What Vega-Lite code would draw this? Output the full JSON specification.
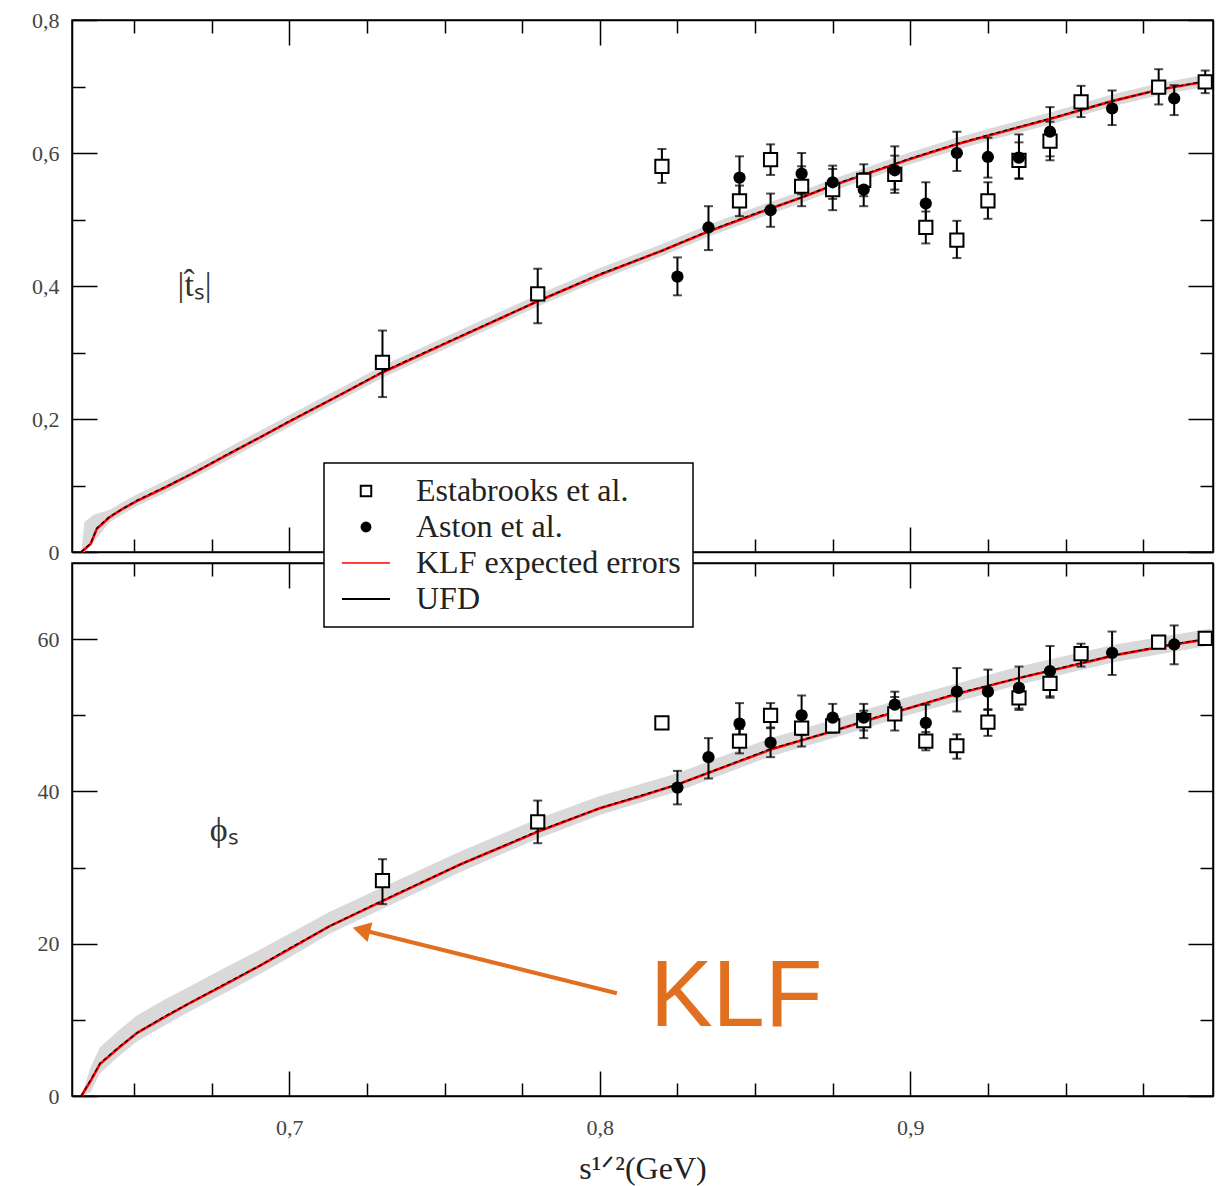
{
  "$schema": "https://vega.github.io/schema/vega-lite/v6.json",
  "background": "white",
  "padding": {"left": 30, "top": 8, "right": 14, "bottom": 4},
  "config": {
    "font": "Liberation Serif",
    "view": {"stroke": "black", "strokeWidth": 1.5},
    "axis": {"domainColor": "black", "domainWidth": 1.5, "tickColor": "black", "tickWidth": 1.5, "grid": false, "minExtent": 0,
      "labelFont": "Liberation Serif", "labelFontSize": 22, "labelColor": "#444", "labelOverlap": false, "labelFlush": false, "labelBound": false,
      "titleFont": "Liberation Serif", "titleFontSize": 32, "titleFontWeight": "normal", "titleColor": "#222"}
  },
  "datasets": {
    "curve": [
      {"panel": "t", "series": "KLF expected errors", "x": 0.633, "y": 0.0},
      {"panel": "t", "series": "KLF expected errors", "x": 0.636, "y": 0.012},
      {"panel": "t", "series": "KLF expected errors", "x": 0.638, "y": 0.035},
      {"panel": "t", "series": "KLF expected errors", "x": 0.642, "y": 0.052},
      {"panel": "t", "series": "KLF expected errors", "x": 0.646, "y": 0.064},
      {"panel": "t", "series": "KLF expected errors", "x": 0.651, "y": 0.077},
      {"panel": "t", "series": "KLF expected errors", "x": 0.66, "y": 0.097},
      {"panel": "t", "series": "KLF expected errors", "x": 0.67, "y": 0.121},
      {"panel": "t", "series": "KLF expected errors", "x": 0.68, "y": 0.146},
      {"panel": "t", "series": "KLF expected errors", "x": 0.69, "y": 0.171},
      {"panel": "t", "series": "KLF expected errors", "x": 0.70, "y": 0.196},
      {"panel": "t", "series": "KLF expected errors", "x": 0.715, "y": 0.233},
      {"panel": "t", "series": "KLF expected errors", "x": 0.73, "y": 0.270},
      {"panel": "t", "series": "KLF expected errors", "x": 0.75, "y": 0.313},
      {"panel": "t", "series": "KLF expected errors", "x": 0.78, "y": 0.377},
      {"panel": "t", "series": "KLF expected errors", "x": 0.80, "y": 0.417},
      {"panel": "t", "series": "KLF expected errors", "x": 0.82, "y": 0.453},
      {"panel": "t", "series": "KLF expected errors", "x": 0.835, "y": 0.482},
      {"panel": "t", "series": "KLF expected errors", "x": 0.85, "y": 0.508},
      {"panel": "t", "series": "KLF expected errors", "x": 0.865, "y": 0.533},
      {"panel": "t", "series": "KLF expected errors", "x": 0.875, "y": 0.551},
      {"panel": "t", "series": "KLF expected errors", "x": 0.89, "y": 0.575},
      {"panel": "t", "series": "KLF expected errors", "x": 0.90, "y": 0.591},
      {"panel": "t", "series": "KLF expected errors", "x": 0.915, "y": 0.613},
      {"panel": "t", "series": "KLF expected errors", "x": 0.925, "y": 0.626},
      {"panel": "t", "series": "KLF expected errors", "x": 0.945, "y": 0.651},
      {"panel": "t", "series": "KLF expected errors", "x": 0.965, "y": 0.678},
      {"panel": "t", "series": "KLF expected errors", "x": 0.98, "y": 0.695},
      {"panel": "t", "series": "KLF expected errors", "x": 0.997, "y": 0.709},
      {"panel": "t", "series": "UFD", "x": 0.633, "y": 0.0},
      {"panel": "t", "series": "UFD", "x": 0.636, "y": 0.013},
      {"panel": "t", "series": "UFD", "x": 0.638, "y": 0.036},
      {"panel": "t", "series": "UFD", "x": 0.642, "y": 0.053},
      {"panel": "t", "series": "UFD", "x": 0.646, "y": 0.064},
      {"panel": "t", "series": "UFD", "x": 0.651, "y": 0.078},
      {"panel": "t", "series": "UFD", "x": 0.66, "y": 0.098},
      {"panel": "t", "series": "UFD", "x": 0.67, "y": 0.121},
      {"panel": "t", "series": "UFD", "x": 0.68, "y": 0.147},
      {"panel": "t", "series": "UFD", "x": 0.69, "y": 0.171},
      {"panel": "t", "series": "UFD", "x": 0.70, "y": 0.197},
      {"panel": "t", "series": "UFD", "x": 0.715, "y": 0.233},
      {"panel": "t", "series": "UFD", "x": 0.73, "y": 0.271},
      {"panel": "t", "series": "UFD", "x": 0.75, "y": 0.314},
      {"panel": "t", "series": "UFD", "x": 0.78, "y": 0.377},
      {"panel": "t", "series": "UFD", "x": 0.80, "y": 0.418},
      {"panel": "t", "series": "UFD", "x": 0.82, "y": 0.453},
      {"panel": "t", "series": "UFD", "x": 0.835, "y": 0.483},
      {"panel": "t", "series": "UFD", "x": 0.85, "y": 0.509},
      {"panel": "t", "series": "UFD", "x": 0.865, "y": 0.533},
      {"panel": "t", "series": "UFD", "x": 0.875, "y": 0.552},
      {"panel": "t", "series": "UFD", "x": 0.89, "y": 0.576},
      {"panel": "t", "series": "UFD", "x": 0.90, "y": 0.592},
      {"panel": "t", "series": "UFD", "x": 0.915, "y": 0.614},
      {"panel": "t", "series": "UFD", "x": 0.925, "y": 0.627},
      {"panel": "t", "series": "UFD", "x": 0.945, "y": 0.652},
      {"panel": "t", "series": "UFD", "x": 0.965, "y": 0.678},
      {"panel": "t", "series": "UFD", "x": 0.98, "y": 0.695},
      {"panel": "t", "series": "UFD", "x": 0.997, "y": 0.710},
      {"panel": "phi", "series": "KLF expected errors", "x": 0.633, "y": 0.0},
      {"panel": "phi", "series": "KLF expected errors", "x": 0.636, "y": 2.0},
      {"panel": "phi", "series": "KLF expected errors", "x": 0.639, "y": 4.2},
      {"panel": "phi", "series": "KLF expected errors", "x": 0.645, "y": 6.3},
      {"panel": "phi", "series": "KLF expected errors", "x": 0.651, "y": 8.3},
      {"panel": "phi", "series": "KLF expected errors", "x": 0.66, "y": 10.4},
      {"panel": "phi", "series": "KLF expected errors", "x": 0.667, "y": 12.0},
      {"panel": "phi", "series": "KLF expected errors", "x": 0.68, "y": 14.8},
      {"panel": "phi", "series": "KLF expected errors", "x": 0.69, "y": 17.0},
      {"panel": "phi", "series": "KLF expected errors", "x": 0.70, "y": 19.3},
      {"panel": "phi", "series": "KLF expected errors", "x": 0.713, "y": 22.3},
      {"panel": "phi", "series": "KLF expected errors", "x": 0.73, "y": 25.6},
      {"panel": "phi", "series": "KLF expected errors", "x": 0.755, "y": 30.4},
      {"panel": "phi", "series": "KLF expected errors", "x": 0.78, "y": 34.7},
      {"panel": "phi", "series": "KLF expected errors", "x": 0.80, "y": 37.8},
      {"panel": "phi", "series": "KLF expected errors", "x": 0.8126, "y": 39.3},
      {"panel": "phi", "series": "KLF expected errors", "x": 0.825, "y": 40.9},
      {"panel": "phi", "series": "KLF expected errors", "x": 0.855, "y": 45.5},
      {"panel": "phi", "series": "KLF expected errors", "x": 0.875, "y": 47.9},
      {"panel": "phi", "series": "KLF expected errors", "x": 0.89, "y": 49.8},
      {"panel": "phi", "series": "KLF expected errors", "x": 0.90, "y": 51.0},
      {"panel": "phi", "series": "KLF expected errors", "x": 0.915, "y": 52.8},
      {"panel": "phi", "series": "KLF expected errors", "x": 0.935, "y": 54.9},
      {"panel": "phi", "series": "KLF expected errors", "x": 0.95, "y": 56.3},
      {"panel": "phi", "series": "KLF expected errors", "x": 0.966, "y": 57.9},
      {"panel": "phi", "series": "KLF expected errors", "x": 0.985, "y": 59.3},
      {"panel": "phi", "series": "KLF expected errors", "x": 0.997, "y": 60.1},
      {"panel": "phi", "series": "UFD", "x": 0.633, "y": 0.0},
      {"panel": "phi", "series": "UFD", "x": 0.636, "y": 2.1},
      {"panel": "phi", "series": "UFD", "x": 0.639, "y": 4.3},
      {"panel": "phi", "series": "UFD", "x": 0.645, "y": 6.4},
      {"panel": "phi", "series": "UFD", "x": 0.651, "y": 8.3},
      {"panel": "phi", "series": "UFD", "x": 0.66, "y": 10.5},
      {"panel": "phi", "series": "UFD", "x": 0.667, "y": 12.0},
      {"panel": "phi", "series": "UFD", "x": 0.68, "y": 14.9},
      {"panel": "phi", "series": "UFD", "x": 0.69, "y": 17.0},
      {"panel": "phi", "series": "UFD", "x": 0.70, "y": 19.4},
      {"panel": "phi", "series": "UFD", "x": 0.713, "y": 22.3},
      {"panel": "phi", "series": "UFD", "x": 0.73, "y": 25.7},
      {"panel": "phi", "series": "UFD", "x": 0.755, "y": 30.4},
      {"panel": "phi", "series": "UFD", "x": 0.78, "y": 34.8},
      {"panel": "phi", "series": "UFD", "x": 0.80, "y": 37.8},
      {"panel": "phi", "series": "UFD", "x": 0.8126, "y": 39.4},
      {"panel": "phi", "series": "UFD", "x": 0.825, "y": 40.9},
      {"panel": "phi", "series": "UFD", "x": 0.855, "y": 45.6},
      {"panel": "phi", "series": "UFD", "x": 0.875, "y": 47.9},
      {"panel": "phi", "series": "UFD", "x": 0.89, "y": 49.9},
      {"panel": "phi", "series": "UFD", "x": 0.90, "y": 51.0},
      {"panel": "phi", "series": "UFD", "x": 0.915, "y": 52.9},
      {"panel": "phi", "series": "UFD", "x": 0.935, "y": 54.9},
      {"panel": "phi", "series": "UFD", "x": 0.95, "y": 56.4},
      {"panel": "phi", "series": "UFD", "x": 0.966, "y": 57.9},
      {"panel": "phi", "series": "UFD", "x": 0.985, "y": 59.4},
      {"panel": "phi", "series": "UFD", "x": 0.997, "y": 60.1}
    ],
    "band": [
      {"panel": "t", "x": 0.633, "lo": 0.0, "hi": 0.0},
      {"panel": "t", "x": 0.634, "lo": 0.0, "hi": 0.045},
      {"panel": "t", "x": 0.637, "lo": 0.015, "hi": 0.056},
      {"panel": "t", "x": 0.642, "lo": 0.044, "hi": 0.063},
      {"panel": "t", "x": 0.646, "lo": 0.056, "hi": 0.074},
      {"panel": "t", "x": 0.651, "lo": 0.069, "hi": 0.087},
      {"panel": "t", "x": 0.66, "lo": 0.089, "hi": 0.107},
      {"panel": "t", "x": 0.67, "lo": 0.113, "hi": 0.131},
      {"panel": "t", "x": 0.68, "lo": 0.138, "hi": 0.156},
      {"panel": "t", "x": 0.69, "lo": 0.163, "hi": 0.181},
      {"panel": "t", "x": 0.70, "lo": 0.188, "hi": 0.206},
      {"panel": "t", "x": 0.715, "lo": 0.225, "hi": 0.243},
      {"panel": "t", "x": 0.73, "lo": 0.262, "hi": 0.280},
      {"panel": "t", "x": 0.75, "lo": 0.305, "hi": 0.323},
      {"panel": "t", "x": 0.78, "lo": 0.369, "hi": 0.387},
      {"panel": "t", "x": 0.80, "lo": 0.409, "hi": 0.427},
      {"panel": "t", "x": 0.82, "lo": 0.445, "hi": 0.463},
      {"panel": "t", "x": 0.835, "lo": 0.474, "hi": 0.492},
      {"panel": "t", "x": 0.85, "lo": 0.500, "hi": 0.518},
      {"panel": "t", "x": 0.865, "lo": 0.525, "hi": 0.543},
      {"panel": "t", "x": 0.875, "lo": 0.543, "hi": 0.561},
      {"panel": "t", "x": 0.89, "lo": 0.567, "hi": 0.585},
      {"panel": "t", "x": 0.90, "lo": 0.583, "hi": 0.601},
      {"panel": "t", "x": 0.915, "lo": 0.605, "hi": 0.623},
      {"panel": "t", "x": 0.925, "lo": 0.618, "hi": 0.636},
      {"panel": "t", "x": 0.945, "lo": 0.643, "hi": 0.661},
      {"panel": "t", "x": 0.965, "lo": 0.670, "hi": 0.688},
      {"panel": "t", "x": 0.98, "lo": 0.687, "hi": 0.705},
      {"panel": "t", "x": 0.997, "lo": 0.701, "hi": 0.719},
      {"panel": "phi", "x": 0.633, "lo": 0.0, "hi": 0.0},
      {"panel": "phi", "x": 0.636, "lo": 0.5, "hi": 3.8},
      {"panel": "phi", "x": 0.639, "lo": 3.0, "hi": 6.4},
      {"panel": "phi", "x": 0.645, "lo": 5.2, "hi": 8.6},
      {"panel": "phi", "x": 0.651, "lo": 7.2, "hi": 10.6},
      {"panel": "phi", "x": 0.66, "lo": 9.3, "hi": 12.7},
      {"panel": "phi", "x": 0.667, "lo": 10.9, "hi": 14.2},
      {"panel": "phi", "x": 0.68, "lo": 13.7, "hi": 17.0},
      {"panel": "phi", "x": 0.69, "lo": 15.9, "hi": 19.1},
      {"panel": "phi", "x": 0.70, "lo": 18.2, "hi": 21.3},
      {"panel": "phi", "x": 0.713, "lo": 21.3, "hi": 24.2},
      {"panel": "phi", "x": 0.73, "lo": 24.6, "hi": 27.4},
      {"panel": "phi", "x": 0.755, "lo": 29.4, "hi": 32.1},
      {"panel": "phi", "x": 0.78, "lo": 33.8, "hi": 36.4},
      {"panel": "phi", "x": 0.80, "lo": 36.9, "hi": 39.4},
      {"panel": "phi", "x": 0.825, "lo": 40.0, "hi": 42.4},
      {"panel": "phi", "x": 0.855, "lo": 44.6, "hi": 47.0},
      {"panel": "phi", "x": 0.875, "lo": 47.0, "hi": 49.4},
      {"panel": "phi", "x": 0.90, "lo": 50.1, "hi": 52.5},
      {"panel": "phi", "x": 0.935, "lo": 54.0, "hi": 56.4},
      {"panel": "phi", "x": 0.966, "lo": 57.0, "hi": 59.3},
      {"panel": "phi", "x": 0.997, "lo": 59.2, "hi": 61.4}
    ],
    "pts": [
      {"panel": "t", "series": "Estabrooks et al.", "x": 0.730, "y": 0.285, "lo": 0.233, "hi": 0.333},
      {"panel": "t", "series": "Estabrooks et al.", "x": 0.780, "y": 0.388, "lo": 0.344, "hi": 0.426},
      {"panel": "t", "series": "Estabrooks et al.", "x": 0.820, "y": 0.580, "lo": 0.555, "hi": 0.606},
      {"panel": "t", "series": "Estabrooks et al.", "x": 0.845, "y": 0.528, "lo": 0.505, "hi": 0.551},
      {"panel": "t", "series": "Estabrooks et al.", "x": 0.855, "y": 0.590, "lo": 0.567, "hi": 0.613},
      {"panel": "t", "series": "Estabrooks et al.", "x": 0.865, "y": 0.550, "lo": 0.520, "hi": 0.580},
      {"panel": "t", "series": "Estabrooks et al.", "x": 0.875, "y": 0.545, "lo": 0.514, "hi": 0.576},
      {"panel": "t", "series": "Estabrooks et al.", "x": 0.885, "y": 0.559, "lo": 0.535, "hi": 0.583},
      {"panel": "t", "series": "Estabrooks et al.", "x": 0.895, "y": 0.568, "lo": 0.540, "hi": 0.596},
      {"panel": "t", "series": "Estabrooks et al.", "x": 0.905, "y": 0.488, "lo": 0.464, "hi": 0.512},
      {"panel": "t", "series": "Estabrooks et al.", "x": 0.915, "y": 0.469, "lo": 0.442, "hi": 0.498},
      {"panel": "t", "series": "Estabrooks et al.", "x": 0.925, "y": 0.528, "lo": 0.501, "hi": 0.556},
      {"panel": "t", "series": "Estabrooks et al.", "x": 0.935, "y": 0.589, "lo": 0.562, "hi": 0.616},
      {"panel": "t", "series": "Estabrooks et al.", "x": 0.945, "y": 0.618, "lo": 0.589, "hi": 0.647},
      {"panel": "t", "series": "Estabrooks et al.", "x": 0.955, "y": 0.677, "lo": 0.654, "hi": 0.701},
      {"panel": "t", "series": "Estabrooks et al.", "x": 0.980, "y": 0.699, "lo": 0.673, "hi": 0.726},
      {"panel": "t", "series": "Estabrooks et al.", "x": 0.995, "y": 0.707, "lo": 0.690, "hi": 0.724},
      {"panel": "t", "series": "Aston et al.", "x": 0.825, "y": 0.414, "lo": 0.386, "hi": 0.443},
      {"panel": "t", "series": "Aston et al.", "x": 0.835, "y": 0.488, "lo": 0.454, "hi": 0.520},
      {"panel": "t", "series": "Aston et al.", "x": 0.845, "y": 0.563, "lo": 0.532, "hi": 0.595},
      {"panel": "t", "series": "Aston et al.", "x": 0.855, "y": 0.514, "lo": 0.489, "hi": 0.539},
      {"panel": "t", "series": "Aston et al.", "x": 0.865, "y": 0.569, "lo": 0.538, "hi": 0.600},
      {"panel": "t", "series": "Aston et al.", "x": 0.875, "y": 0.556, "lo": 0.531, "hi": 0.581},
      {"panel": "t", "series": "Aston et al.", "x": 0.885, "y": 0.545, "lo": 0.520, "hi": 0.570},
      {"panel": "t", "series": "Aston et al.", "x": 0.895, "y": 0.574, "lo": 0.545, "hi": 0.610},
      {"panel": "t", "series": "Aston et al.", "x": 0.905, "y": 0.524, "lo": 0.490, "hi": 0.556},
      {"panel": "t", "series": "Aston et al.", "x": 0.915, "y": 0.600, "lo": 0.573, "hi": 0.632},
      {"panel": "t", "series": "Aston et al.", "x": 0.925, "y": 0.594, "lo": 0.563, "hi": 0.623},
      {"panel": "t", "series": "Aston et al.", "x": 0.935, "y": 0.593, "lo": 0.561, "hi": 0.628},
      {"panel": "t", "series": "Aston et al.", "x": 0.945, "y": 0.632, "lo": 0.595, "hi": 0.669},
      {"panel": "t", "series": "Aston et al.", "x": 0.965, "y": 0.667, "lo": 0.642, "hi": 0.694},
      {"panel": "t", "series": "Aston et al.", "x": 0.985, "y": 0.682, "lo": 0.657, "hi": 0.702},
      {"panel": "phi", "series": "Estabrooks et al.", "x": 0.730, "y": 28.3, "lo": 25.2, "hi": 31.1},
      {"panel": "phi", "series": "Estabrooks et al.", "x": 0.780, "y": 36.0, "lo": 33.2, "hi": 38.8},
      {"panel": "phi", "series": "Estabrooks et al.", "x": 0.820, "y": 49.0, "lo": 48.5, "hi": 49.5},
      {"panel": "phi", "series": "Estabrooks et al.", "x": 0.845, "y": 46.6, "lo": 45.0, "hi": 48.2},
      {"panel": "phi", "series": "Estabrooks et al.", "x": 0.855, "y": 50.0, "lo": 48.4, "hi": 51.6},
      {"panel": "phi", "series": "Estabrooks et al.", "x": 0.865, "y": 48.3, "lo": 45.9, "hi": 50.5},
      {"panel": "phi", "series": "Estabrooks et al.", "x": 0.875, "y": 48.6, "lo": 47.7, "hi": 49.5},
      {"panel": "phi", "series": "Estabrooks et al.", "x": 0.885, "y": 49.3, "lo": 48.0, "hi": 50.6},
      {"panel": "phi", "series": "Estabrooks et al.", "x": 0.895, "y": 50.2, "lo": 48.0, "hi": 52.4},
      {"panel": "phi", "series": "Estabrooks et al.", "x": 0.905, "y": 46.6, "lo": 45.4, "hi": 47.8},
      {"panel": "phi", "series": "Estabrooks et al.", "x": 0.915, "y": 46.0, "lo": 44.3, "hi": 47.5},
      {"panel": "phi", "series": "Estabrooks et al.", "x": 0.925, "y": 49.1, "lo": 47.3, "hi": 50.7},
      {"panel": "phi", "series": "Estabrooks et al.", "x": 0.935, "y": 52.3, "lo": 50.7, "hi": 53.9},
      {"panel": "phi", "series": "Estabrooks et al.", "x": 0.945, "y": 54.2, "lo": 52.3, "hi": 56.1},
      {"panel": "phi", "series": "Estabrooks et al.", "x": 0.955, "y": 58.1, "lo": 56.4, "hi": 59.4},
      {"panel": "phi", "series": "Estabrooks et al.", "x": 0.980, "y": 59.6, "lo": 59.0, "hi": 60.2},
      {"panel": "phi", "series": "Estabrooks et al.", "x": 0.995, "y": 60.1, "lo": 59.5, "hi": 60.7},
      {"panel": "phi", "series": "Aston et al.", "x": 0.825, "y": 40.5, "lo": 38.3, "hi": 42.7},
      {"panel": "phi", "series": "Aston et al.", "x": 0.835, "y": 44.5, "lo": 41.7, "hi": 47.0},
      {"panel": "phi", "series": "Aston et al.", "x": 0.845, "y": 48.9, "lo": 46.5, "hi": 51.6},
      {"panel": "phi", "series": "Aston et al.", "x": 0.855, "y": 46.4, "lo": 44.5, "hi": 48.3},
      {"panel": "phi", "series": "Aston et al.", "x": 0.865, "y": 50.0, "lo": 47.4, "hi": 52.6},
      {"panel": "phi", "series": "Aston et al.", "x": 0.875, "y": 49.7, "lo": 47.9, "hi": 51.5},
      {"panel": "phi", "series": "Aston et al.", "x": 0.885, "y": 49.7, "lo": 47.0, "hi": 51.5},
      {"panel": "phi", "series": "Aston et al.", "x": 0.895, "y": 51.4, "lo": 49.7, "hi": 53.1},
      {"panel": "phi", "series": "Aston et al.", "x": 0.905, "y": 49.0, "lo": 46.8, "hi": 51.4},
      {"panel": "phi", "series": "Aston et al.", "x": 0.915, "y": 53.1, "lo": 50.5, "hi": 56.2},
      {"panel": "phi", "series": "Aston et al.", "x": 0.925, "y": 53.1, "lo": 50.8, "hi": 56.0},
      {"panel": "phi", "series": "Aston et al.", "x": 0.935, "y": 53.6, "lo": 50.9, "hi": 56.4},
      {"panel": "phi", "series": "Aston et al.", "x": 0.945, "y": 55.8, "lo": 52.5, "hi": 59.1},
      {"panel": "phi", "series": "Aston et al.", "x": 0.965, "y": 58.2, "lo": 55.3, "hi": 61.0},
      {"panel": "phi", "series": "Aston et al.", "x": 0.985, "y": 59.3, "lo": 56.7, "hi": 61.8}
    ],
    "notes": [
      {"panel": "t", "x": 0.6695, "y": 0.40, "text": "|t\u0302\u209b|"},
      {"panel": "phi", "x": 0.679, "y": 34.8, "text": "\u03d5\u209b"}
    ],
    "arrow": [
      {"x": 0.8055, "y": 13.5, "x2": 0.7235, "y2": 21.8}
    ],
    "arrowhead": [
      {"x": 0.7232, "y": 21.8}
    ],
    "klf": [
      {"x": 0.8439, "y": 9.2, "text": "KLF"}
    ]
  },
  "spacing": 11,
  "bounds": "flush",
  "resolve": {"scale": {"color": "shared"}, "legend": {"color": "shared"}},
  "vconcat": [
    {
      "width": 1141,
      "height": 532,
      "resolve": {"axis": {"x": "independent", "y": "independent"}},
      "layer": [
        {
          "data": {"name": "band"},
          "transform": [{"filter": "datum.panel == 't'"}],
          "mark": {"type": "area", "color": "#d9d9d9"},
          "encoding": {
            "x": {"field": "x", "type": "quantitative", "scale": {"domain": [0.63, 0.9975], "nice": false, "zero": false},
              "axis": {"orient": "bottom", "values": [0.65,0.675,0.7,0.725,0.75,0.775,0.8,0.825,0.85,0.875,0.9,0.925,0.95,0.975], "labels": false, "title": null,
                "tickSize": {"condition": {"test": "abs(datum.value*10 - round(datum.value*10)) < 0.001", "value": -25}, "value": -13}}},
            "y": {"field": "lo", "type": "quantitative", "scale": {"domain": [0, 0.8], "nice": false},
              "axis": {"orient": "left", "values": [0,0.1,0.2,0.3,0.4,0.5,0.6,0.7,0.8], "title": null, "labelPadding": 38,
                "labelExpr": "abs(datum.value*5 - round(datum.value*5)) < 0.001 ? (datum.value == 0 ? '0' : replace(format(datum.value, '.1f'), '.', ',')) : ''",
                "tickSize": {"condition": {"test": "abs(datum.value*5 - round(datum.value*5)) < 0.001", "value": -25}, "value": -13}}},
            "y2": {"field": "hi"}
          }
        },
        {
          "data": {"name": "curve"},
          "transform": [{"filter": "datum.panel == 't' && datum.series == 'KLF expected errors'"}],
          "mark": {"type": "line", "strokeWidth": 2.6},
          "encoding": {
            "x": {"field": "x", "type": "quantitative", "scale": {"domain": [0.63, 0.9975], "nice": false, "zero": false},
              "axis": {"orient": "top", "values": [0.65,0.675,0.7,0.725,0.75,0.775,0.8,0.825,0.85,0.875,0.9,0.925,0.95,0.975], "labels": false, "title": null,
                "tickSize": {"condition": {"test": "abs(datum.value*10 - round(datum.value*10)) < 0.001", "value": -25}, "value": -13}}},
            "y": {"field": "y", "type": "quantitative", "scale": {"domain": [0, 0.8], "nice": false},
              "axis": {"orient": "right", "values": [0,0.1,0.2,0.3,0.4,0.5,0.6,0.7,0.8], "labels": false, "title": null,
                "tickSize": {"condition": {"test": "abs(datum.value*5 - round(datum.value*5)) < 0.001", "value": -25}, "value": -13}}},
            "color": {"field": "series", "type": "nominal",
              "scale": {"domain": ["Estabrooks et al.", "Aston et al.", "KLF expected errors", "UFD"], "range": ["black", "black", "red", "black"]},
              "legend": {
                "orient": "none", "legendX": 252, "legendY": 443, "title": null,
                "strokeColor": "black", "fillColor": "white", "padding": 12,
                "labelFont": "Liberation Serif", "labelFontSize": 32, "labelColor": "#222", "labelLimit": 500,
                "symbolSize": 144, "symbolOffset": 14, "labelOffset": 34, "rowPadding": 4,
                "encode": {
                  "legend": {"update": {"strokeWidth": {"value": 1.5}}},
                  "symbols": {"update": {
                    "shape": {"signal": "datum.value == 'Estabrooks et al.' ? 'square' : datum.value == 'Aston et al.' ? 'circle' : 'stroke'"},
                    "size": {"signal": "datum.value == 'KLF expected errors' || datum.value == 'UFD' ? 2304 : datum.value == 'Aston et al.' ? 80 : 110"},
                    "fill": {"signal": "datum.value == 'Aston et al.' ? 'black' : 'white'"},
                    "fillOpacity": {"signal": "datum.value == 'Aston et al.' ? 1 : 0"},
                    "stroke": {"signal": "datum.value == 'KLF expected errors' ? 'red' : 'black'"},
                    "strokeWidth": {"signal": "datum.value == 'KLF expected errors' ? 1.5 : 2"},
                    "opacity": {"value": 1}
                  }}
                }
              }}
          }
        },
        {
          "data": {"name": "curve"},
          "transform": [{"filter": "datum.panel == 't' && datum.series == 'UFD'"}],
          "mark": {"type": "line", "strokeWidth": 1.2, "strokeDash": [4, 3]},
          "encoding": {
            "x": {"field": "x", "type": "quantitative", "scale": {"domain": [0.63, 0.9975], "nice": false, "zero": false}, "axis": null},
            "y": {"field": "y", "type": "quantitative", "scale": {"domain": [0, 0.8], "nice": false}, "axis": null},
            "color": {"field": "series", "type": "nominal", "legend": null}
          }
        },
        {
          "data": {"name": "pts"},
          "transform": [{"filter": "datum.panel == 't'"}],
          "mark": {"type": "errorbar", "ticks": true, "size": 9, "thickness": 2, "color": "black"},
          "encoding": {
            "x": {"field": "x", "type": "quantitative", "scale": {"domain": [0.63, 0.9975], "nice": false, "zero": false}, "axis": null},
            "y": {"field": "lo", "type": "quantitative", "scale": {"domain": [0, 0.8], "nice": false}, "axis": null},
            "y2": {"field": "hi"}
          }
        },
        {
          "data": {"name": "pts"},
          "transform": [{"filter": "datum.panel == 't' && datum.series == 'Estabrooks et al.'"}],
          "mark": {"type": "point", "shape": "square", "size": 175, "filled": false, "fill": "white", "strokeWidth": 2, "opacity": 1},
          "encoding": {
            "x": {"field": "x", "type": "quantitative", "scale": {"domain": [0.63, 0.9975], "nice": false, "zero": false}, "axis": null},
            "y": {"field": "y", "type": "quantitative", "scale": {"domain": [0, 0.8], "nice": false}, "axis": null},
            "color": {"field": "series", "type": "nominal", "legend": null}
          }
        },
        {
          "data": {"name": "pts"},
          "transform": [{"filter": "datum.panel == 't' && datum.series == 'Aston et al.'"}],
          "mark": {"type": "point", "shape": "circle", "size": 150, "filled": true, "opacity": 1},
          "encoding": {
            "x": {"field": "x", "type": "quantitative", "scale": {"domain": [0.63, 0.9975], "nice": false, "zero": false}, "axis": null},
            "y": {"field": "y", "type": "quantitative", "scale": {"domain": [0, 0.8], "nice": false}, "axis": null},
            "color": {"field": "series", "type": "nominal", "legend": null}
          }
        },
        {
          "data": {"name": "notes"},
          "transform": [{"filter": "datum.panel == 't'"}],
          "mark": {"type": "text", "font": "Liberation Serif", "fontSize": 34, "color": "#333", "align": "center", "baseline": "middle"},
          "encoding": {
            "x": {"field": "x", "type": "quantitative", "scale": {"domain": [0.63, 0.9975], "nice": false, "zero": false}, "axis": null},
            "y": {"field": "y", "type": "quantitative", "scale": {"domain": [0, 0.8], "nice": false}, "axis": null},
            "text": {"field": "text"}
          }
        }
      ]
    },
    {
      "width": 1141,
      "height": 533,
      "resolve": {"axis": {"x": "independent", "y": "independent"}},
      "layer": [
        {
          "data": {"name": "band"},
          "transform": [{"filter": "datum.panel == 'phi'"}],
          "mark": {"type": "area", "color": "#d9d9d9"},
          "encoding": {
            "x": {"field": "x", "type": "quantitative", "scale": {"domain": [0.63, 0.9975], "nice": false, "zero": false},
              "axis": {"orient": "bottom", "values": [0.65,0.675,0.7,0.725,0.75,0.775,0.8,0.825,0.85,0.875,0.9,0.925,0.95,0.975], "title": "s\u00b9\u141f\u00b2(GeV)", "titlePadding": 3, "labelPadding": 46,
                "labelExpr": "abs(datum.value*10 - round(datum.value*10)) < 0.001 ? replace(format(datum.value, '.1f'), '.', ',') : ''",
                "tickSize": {"condition": {"test": "abs(datum.value*10 - round(datum.value*10)) < 0.001", "value": -25}, "value": -13}}},
            "y": {"field": "lo", "type": "quantitative", "scale": {"domain": [0, 70], "nice": false},
              "axis": {"orient": "left", "values": [0,10,20,30,40,50,60], "title": null, "labelPadding": 38,
                "labelExpr": "datum.value % 20 == 0 ? format(datum.value, 'd') : ''",
                "tickSize": {"condition": {"test": "datum.value % 20 == 0", "value": -25}, "value": -13}}},
            "y2": {"field": "hi"}
          }
        },
        {
          "data": {"name": "curve"},
          "transform": [{"filter": "datum.panel == 'phi' && datum.series == 'KLF expected errors'"}],
          "mark": {"type": "line", "strokeWidth": 2.6},
          "encoding": {
            "x": {"field": "x", "type": "quantitative", "scale": {"domain": [0.63, 0.9975], "nice": false, "zero": false},
              "axis": {"orient": "top", "values": [0.65,0.675,0.7,0.725,0.75,0.775,0.8,0.825,0.85,0.875,0.9,0.925,0.95,0.975], "labels": false, "title": null,
                "tickSize": {"condition": {"test": "abs(datum.value*10 - round(datum.value*10)) < 0.001", "value": -25}, "value": -13}}},
            "y": {"field": "y", "type": "quantitative", "scale": {"domain": [0, 70], "nice": false},
              "axis": {"orient": "right", "values": [0,10,20,30,40,50,60], "labels": false, "title": null,
                "tickSize": {"condition": {"test": "datum.value % 20 == 0", "value": -25}, "value": -13}}},
            "color": {"field": "series", "type": "nominal", "legend": null}
          }
        },
        {
          "data": {"name": "curve"},
          "transform": [{"filter": "datum.panel == 'phi' && datum.series == 'UFD'"}],
          "mark": {"type": "line", "strokeWidth": 1.2, "strokeDash": [4, 3]},
          "encoding": {
            "x": {"field": "x", "type": "quantitative", "scale": {"domain": [0.63, 0.9975], "nice": false, "zero": false}, "axis": null},
            "y": {"field": "y", "type": "quantitative", "scale": {"domain": [0, 70], "nice": false}, "axis": null},
            "color": {"field": "series", "type": "nominal", "legend": null}
          }
        },
        {
          "data": {"name": "pts"},
          "transform": [{"filter": "datum.panel == 'phi'"}],
          "mark": {"type": "errorbar", "ticks": true, "size": 9, "thickness": 2, "color": "black"},
          "encoding": {
            "x": {"field": "x", "type": "quantitative", "scale": {"domain": [0.63, 0.9975], "nice": false, "zero": false}, "axis": null},
            "y": {"field": "lo", "type": "quantitative", "scale": {"domain": [0, 70], "nice": false}, "axis": null},
            "y2": {"field": "hi"}
          }
        },
        {
          "data": {"name": "pts"},
          "transform": [{"filter": "datum.panel == 'phi' && datum.series == 'Estabrooks et al.'"}],
          "mark": {"type": "point", "shape": "square", "size": 175, "filled": false, "fill": "white", "strokeWidth": 2, "opacity": 1},
          "encoding": {
            "x": {"field": "x", "type": "quantitative", "scale": {"domain": [0.63, 0.9975], "nice": false, "zero": false}, "axis": null},
            "y": {"field": "y", "type": "quantitative", "scale": {"domain": [0, 70], "nice": false}, "axis": null},
            "color": {"field": "series", "type": "nominal", "legend": null}
          }
        },
        {
          "data": {"name": "pts"},
          "transform": [{"filter": "datum.panel == 'phi' && datum.series == 'Aston et al.'"}],
          "mark": {"type": "point", "shape": "circle", "size": 150, "filled": true, "opacity": 1},
          "encoding": {
            "x": {"field": "x", "type": "quantitative", "scale": {"domain": [0.63, 0.9975], "nice": false, "zero": false}, "axis": null},
            "y": {"field": "y", "type": "quantitative", "scale": {"domain": [0, 70], "nice": false}, "axis": null},
            "color": {"field": "series", "type": "nominal", "legend": null}
          }
        },
        {
          "data": {"name": "notes"},
          "transform": [{"filter": "datum.panel == 'phi'"}],
          "mark": {"type": "text", "font": "Liberation Serif", "fontSize": 34, "color": "#333", "align": "center", "baseline": "middle"},
          "encoding": {
            "x": {"field": "x", "type": "quantitative", "scale": {"domain": [0.63, 0.9975], "nice": false, "zero": false}, "axis": null},
            "y": {"field": "y", "type": "quantitative", "scale": {"domain": [0, 70], "nice": false}, "axis": null},
            "text": {"field": "text"}
          }
        },
        {
          "data": {"name": "arrow"},
          "mark": {"type": "rule", "color": "#E07020", "strokeWidth": 4},
          "encoding": {
            "x": {"field": "x", "type": "quantitative", "scale": {"domain": [0.63, 0.9975], "nice": false, "zero": false}, "axis": null},
            "y": {"field": "y", "type": "quantitative", "scale": {"domain": [0, 70], "nice": false}, "axis": null},
            "x2": {"field": "x2"},
            "y2": {"field": "y2"}
          }
        },
        {
          "data": {"name": "arrowhead"},
          "mark": {"type": "point", "shape": "triangle-up", "filled": true, "size": 420, "angle": 284, "color": "#E07020", "opacity": 1},
          "encoding": {
            "x": {"field": "x", "type": "quantitative", "scale": {"domain": [0.63, 0.9975], "nice": false, "zero": false}, "axis": null},
            "y": {"field": "y", "type": "quantitative", "scale": {"domain": [0, 70], "nice": false}, "axis": null}
          }
        },
        {
          "data": {"name": "klf"},
          "mark": {"type": "text", "font": "Liberation Sans", "fontSize": 94, "color": "#E07020", "align": "center", "baseline": "alphabetic"},
          "encoding": {
            "x": {"field": "x", "type": "quantitative", "scale": {"domain": [0.63, 0.9975], "nice": false, "zero": false}, "axis": null},
            "y": {"field": "y", "type": "quantitative", "scale": {"domain": [0, 70], "nice": false}, "axis": null},
            "text": {"field": "text"}
          }
        }
      ]
    }
  ]
}
